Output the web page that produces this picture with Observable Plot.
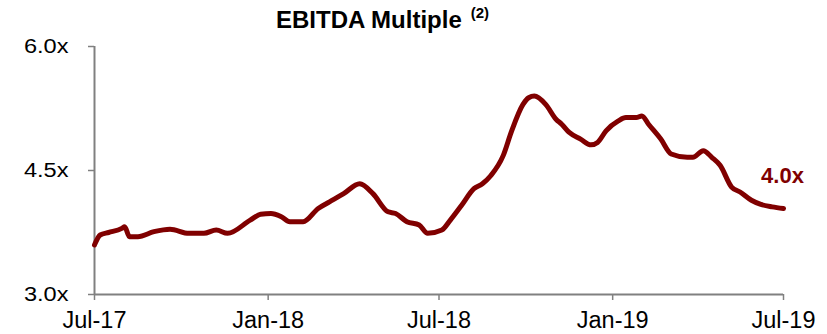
<!DOCTYPE html>
<html>
<head>
<meta charset="utf-8">
<script src="https://cdn.jsdelivr.net/npm/d3@7"></script>
<script src="https://cdn.jsdelivr.net/npm/@observablehq/plot@0.6"></script>
<style>
  html, body { margin: 0; padding: 0; background: #fff; }
  #wrap { width: 827px; position: relative; }
  #title { position: relative; height: 36px; font-family: "Liberation Sans", Arial, sans-serif; font-weight: bold; font-size: 24px; color: #000; }
  #title span.t { position: absolute; left: 276px; top: 6px; white-space: nowrap; }
  #title sup { font-size: 15px; vertical-align: 0; position: relative; top: -10px; margin-left: 9px; }
</style>
</head>
<body>
<div id="wrap">
  <div id="title"><span class="t">EBITDA Multiple<sup>(2)</sup></span></div>
  <div id="chart"></div>
</div>
<script>
const dates = [
  "2017-07-01","2017-07-07","2017-07-16","2017-07-30","2017-08-02","2017-08-07","2017-08-16",
  "2017-09-02","2017-09-19","2017-10-09","2017-10-25","2017-11-07","2017-11-19","2017-12-13",
  "2017-12-24","2018-01-04","2018-01-15","2018-01-24","2018-02-07","2018-02-23","2018-03-07",
  "2018-03-22","2018-04-08","2018-04-22","2018-05-08","2018-05-16","2018-05-28","2018-06-10",
  "2018-06-19","2018-07-04","2018-07-13","2018-07-25","2018-08-07","2018-08-16","2018-08-25",
  "2018-09-07","2018-09-16","2018-09-28","2018-10-04","2018-10-10","2018-10-22","2018-11-02",
  "2018-11-08","2018-11-16","2018-11-28","2018-12-09","2018-12-16","2018-12-25","2019-01-07",
  "2019-01-15","2019-01-26","2019-02-01","2019-02-08","2019-02-21","2019-03-04","2019-03-21",
  "2019-03-27","2019-04-07","2019-04-16","2019-04-25","2019-05-07","2019-05-16","2019-05-28",
  "2019-06-07","2019-06-19","2019-07-01"
];
const multiples = [
  3.60,3.72,3.75,3.80,3.82,3.70,3.70,
  3.76,3.79,3.74,3.74,3.78,3.74,3.90,
  3.97,3.98,3.94,3.88,3.88,4.04,4.12,
  4.22,4.34,4.22,4.00,3.98,3.88,3.84,
  3.74,3.78,3.90,4.08,4.28,4.34,4.44,
  4.68,4.98,5.30,5.38,5.40,5.30,5.12,
  5.06,4.96,4.88,4.81,4.84,4.98,5.10,
  5.14,5.14,5.16,5.06,4.88,4.70,4.66,
  4.66,4.74,4.66,4.56,4.30,4.24,4.14,
  4.09,4.06,4.04
];
const xTickDates = ["2017-07-01","2018-01-01","2018-07-01","2019-01-01","2019-07-01"];
const yTickValues = [3.0, 4.5, 6.0];
const endLabel = "4.0x";

const parse = d3.utcParse("%Y-%m-%d");
const data = dates.map((d, i) => ({date: parse(d), value: multiples[i]}));
const xTicks = xTickDates.map(parse);
const xStart = xTicks[0], xEnd = xTicks[xTicks.length - 1];
const last = data[data.length - 1];

const lineColor = "#800000";
const axisColor = "#808080";

const chart = Plot.plot({
  width: 827,
  height: 298,
  marginTop: 10,
  marginBottom: 40,
  marginLeft: 94,
  marginRight: 44,
  style: {fontFamily: "'Liberation Sans', Arial, sans-serif", background: "#fff", overflow: "visible"},
  x: {type: "utc", domain: [xStart, xEnd], axis: null},
  y: {domain: [3, 6], axis: null},
  marks: [
    Plot.axisX({
      ticks: xTicks, tickFormat: d3.utcFormat("%b-%y"), tickSize: 6, tickPadding: 11,
      stroke: axisColor, strokeWidth: 1.5, fill: "#000", fontSize: 23.5, label: null
    }),
    Plot.axisY({
      ticks: yTickValues, tickFormat: d => d.toFixed(1) + "x", tickSize: 6, tickPadding: 20,
      stroke: axisColor, strokeWidth: 1.5, fill: "#000", fontSize: 20.5, label: null
    }),
    Plot.ruleX([xStart], {y1: 3, y2: 6, stroke: axisColor, strokeWidth: 2}),
    Plot.ruleY([3], {x1: xStart, x2: xEnd, stroke: axisColor, strokeWidth: 2}),
    Plot.line(data, {x: "date", y: "value", stroke: lineColor, strokeWidth: 5, curve: "monotone-x", strokeLinejoin: "round", strokeLinecap: "round"}),
    Plot.text([last], {x: "date", y: "value", text: () => endLabel, dy: -33, dx: -1, fill: lineColor, fontSize: 22, fontWeight: "bold", textAnchor: "middle"})
  ]
});

// widen axis tick labels to match the reference's horizontally stretched lettering
d3.select(chart).selectAll('g[aria-label="y-axis tick label"] text').each(function() {
  const t = this.getAttribute("transform");
  if (t && t.includes("translate")) this.setAttribute("transform", t + " scale(1.15,1)");
});

document.getElementById("chart").appendChild(chart);
</script>
</body>
</html>
